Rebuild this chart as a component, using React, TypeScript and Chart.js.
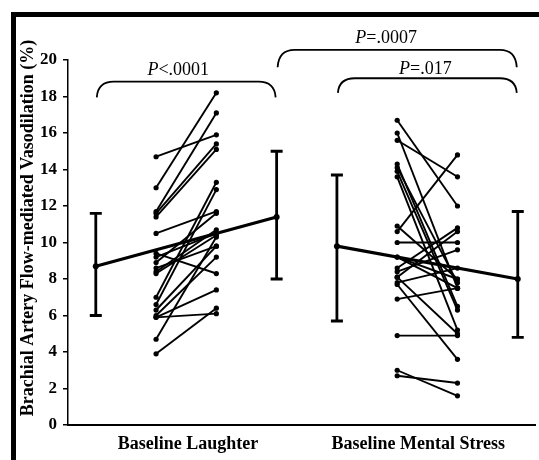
import React, { useEffect, useRef } from "react";
import { Chart, registerables } from "chart.js";
Chart.register(...registerables);

// ---- data ----
const groupLabels = ["Baseline Laughter", "Baseline Mental Stress"];
const groupLabelPositions = [2.53, 6.35];
const yTickStep = 2;
const yMin = 0;
const yMax = 20;

// x positions (category slots) used on a linear axis
const barPositions = [1, 4, 5, 8];
const laughterPairX = [2, 3];
const stressPairX = [6, 7];

const laughterBefore = [14.7, 13.0, 11.7, 11.6, 11.4, 10.5, 9.4, 9.2, 8.9, 8.4, 8.3, 7.0, 6.6, 6.3, 6.0, 5.9, 5.9, 4.7, 3.9, 8.6];
const laughterAfter = [15.9, 18.2, 17.1, 15.4, 15.1, 11.7, 8.3, 10.5, 11.6, 10.7, 10.4, 13.3, 12.9, 9.8, 9.2, 6.1, 7.4, 10.3, 6.4, 9.8];

const stressBefore = [16.7, 16.0, 15.6, 14.3, 14.1, 13.9, 13.6, 10.9, 10.6, 10.0, 9.2, 8.6, 8.4, 8.1, 7.8, 7.7, 6.9, 4.9, 3.0, 2.7, 8.1, 9.2];
const stressAfter = [12.0, 7.5, 13.6, 6.5, 7.8, 6.3, 5.2, 8.0, 14.8, 10.0, 7.5, 10.8, 9.6, 10.6, 8.6, 3.6, 7.5, 4.9, 1.6, 2.3, 5.0, 8.0];

const barMeans = [8.7, 11.4, 9.8, 8.0];
const barLows = [6.0, 8.0, 5.7, 4.8];
const barHighs = [11.6, 15.0, 13.7, 11.7];

const pLabels = ["<.0001", "=.0007", "=.017"];
const bracketFrom = [1, 4, 5];
const bracketTo = [4, 8, 8];
const bracketTop = [18.81, 20.55, 19.0];
const bracketEnd = [17.95, 19.6, 18.2];
const pLabelValue = [19.18, 20.93, 19.23];
const pLabelShift = [-8, -11, -2];

const yTitle = "Brachial Artery Flow-mediated Vasodilation (%)";

const SERIF = "'Liberation Serif', 'Times New Roman', 'DejaVu Serif', serif";

function pairDatasets(xs: number[], before: number[], after: number[]) {
  return before.map((b, i) => ({
    type: "line" as const,
    data: [
      { x: xs[0], y: b },
      { x: xs[1], y: after[i] },
    ],
    borderColor: "#000",
    backgroundColor: "#000",
    borderWidth: 1.9,
    pointRadius: 2.6,
    pointBorderWidth: 0,
    pointBackgroundColor: "#000",
    tension: 0,
    order: 5,
  }));
}

const framePlugin = {
  id: "frame",
  beforeDraw(chart: any) {
    const ctx = chart.ctx;
    ctx.save();
    ctx.fillStyle = "#fff";
    ctx.fillRect(0, 0, chart.width, chart.height);
    ctx.fillStyle = "#000";
    ctx.fillRect(11, 12, chart.width - 11, 5);
    ctx.fillRect(11, 12, 5, chart.height - 12);
    ctx.restore();
  },
};

const overlayPlugin = {
  id: "overlay",
  afterDatasetsDraw(chart: any) {
    const ctx = chart.ctx;
    const xs = chart.scales.x;
    const ys = chart.scales.y;
    ctx.save();
    ctx.strokeStyle = "#000";
    ctx.fillStyle = "#000";
    barPositions.forEach((p, i) => {
      const x = xs.getPixelForValue(p);
      const yl = ys.getPixelForValue(barLows[i]);
      const yh = ys.getPixelForValue(barHighs[i]);
      const ym = ys.getPixelForValue(barMeans[i]);
      ctx.lineWidth = 2.8;
      ctx.beginPath();
      ctx.moveTo(x, yl);
      ctx.lineTo(x, yh);
      ctx.moveTo(x - 6, yl);
      ctx.lineTo(x + 6, yl);
      ctx.moveTo(x - 6, yh);
      ctx.lineTo(x + 6, yh);
      ctx.stroke();
      ctx.beginPath();
      ctx.arc(x, ym, 3, 0, Math.PI * 2);
      ctx.fill();
    });
    ctx.restore();
  },
  afterDraw(chart: any) {
    const ctx = chart.ctx;
    const xs = chart.scales.x;
    const ys = chart.scales.y;
    ctx.save();
    ctx.strokeStyle = "#000";
    ctx.fillStyle = "#000";
    ctx.lineWidth = 1.8;
    pLabels.forEach((lab, i) => {
      const x1 = xs.getPixelForValue(bracketFrom[i]) + 1;
      const x2 = xs.getPixelForValue(bracketTo[i]) - 1;
      const yt = ys.getPixelForValue(bracketTop[i]);
      const ye = ys.getPixelForValue(bracketEnd[i]);
      const r = 17;
      ctx.beginPath();
      ctx.moveTo(x1, ye);
      ctx.quadraticCurveTo(x1 + 1, yt, x1 + r, yt);
      ctx.lineTo(x2 - r, yt);
      ctx.quadraticCurveTo(x2 - 1, yt, x2, ye);
      ctx.stroke();
      const cx = (x1 + x2) / 2 + pLabelShift[i];
      const by = ys.getPixelForValue(pLabelValue[i]);
      ctx.font = `italic 18px ${SERIF}`;
      const wP = ctx.measureText("P").width;
      ctx.font = `18px ${SERIF}`;
      const wR = ctx.measureText(lab).width;
      const start = cx - (wP + wR) / 2;
      ctx.textBaseline = "alphabetic";
      ctx.textAlign = "left";
      ctx.font = `italic 18px ${SERIF}`;
      ctx.fillText("P", start, by);
      ctx.font = `18px ${SERIF}`;
      ctx.fillText(lab, start + wP, by);
    });
    ctx.font = `bold 18px ${SERIF}`;
    ctx.textAlign = "center";
    ctx.textBaseline = "middle";
    ctx.translate(28, 228);
    ctx.rotate(-Math.PI / 2);
    ctx.fillText(yTitle, 0, 0);
    ctx.restore();
  },
};

export default function App() {
  const ref = useRef<HTMLCanvasElement | null>(null);
  useEffect(() => {
    if (!ref.current) return;
    const datasets: any[] = [
      {
        type: "line",
        data: [
          { x: barPositions[0], y: barMeans[0] },
          { x: barPositions[1], y: barMeans[1] },
        ],
        borderColor: "#000",
        borderWidth: 3.2,
        pointRadius: 0,
        order: 0,
      },
      {
        type: "line",
        data: [
          { x: barPositions[2], y: barMeans[2] },
          { x: barPositions[3], y: barMeans[3] },
        ],
        borderColor: "#000",
        borderWidth: 3.2,
        pointRadius: 0,
        order: 0,
      },
      ...pairDatasets(laughterPairX, laughterBefore, laughterAfter),
      ...pairDatasets(stressPairX, stressBefore, stressAfter),
    ];
    const chart = new Chart(ref.current, {
      type: "line",
      data: { datasets },
      options: {
        animation: false,
        responsive: false,
        events: [],
        layout: { padding: { top: 60, left: 0, right: 0, bottom: 0 } },
        plugins: { legend: { display: false }, tooltip: { enabled: false } },
        scales: {
          x: {
            type: "linear",
            min: 0.539,
            max: 8.286,
            afterFit: (s: any) => {
              s.height = 35;
            },
            afterBuildTicks: (s: any) => {
              s.ticks = groupLabelPositions.map((v) => ({ value: v }));
            },
            grid: { display: true, drawOnChartArea: false, drawTicks: false },
            border: { display: true, color: "#000", width: 2 },
            ticks: {
              autoSkip: false,
              maxRotation: 0,
              padding: 9,
              color: "#000",
              font: { family: SERIF, size: 18, weight: "bold" },
              callback: (_v: any, i: number) => groupLabels[i],
            },
          },
          y: {
            type: "linear",
            min: yMin,
            max: yMax,
            afterFit: (s: any) => {
              s.width = 68;
            },
            grid: {
              display: true,
              drawOnChartArea: false,
              drawTicks: true,
              tickLength: 5,
              color: "#000",
              lineWidth: 1.5,
            },
            border: { display: true, color: "#000", width: 1.5 },
            ticks: {
              stepSize: yTickStep,
              padding: 6,
              color: "#000",
              font: { family: SERIF, size: 17, weight: "bold" },
            },
          },
        },
      },
      plugins: [framePlugin, overlayPlugin],
    } as any);
    return () => chart.destroy();
  }, []);
  return (
    <div style={{ position: "fixed", left: 0, top: 0, width: 539, height: 460, background: "#fff" }}>
      <canvas ref={ref} width={539} height={460} style={{ width: 539, height: 460, display: "block" }} />
    </div>
  );
}
